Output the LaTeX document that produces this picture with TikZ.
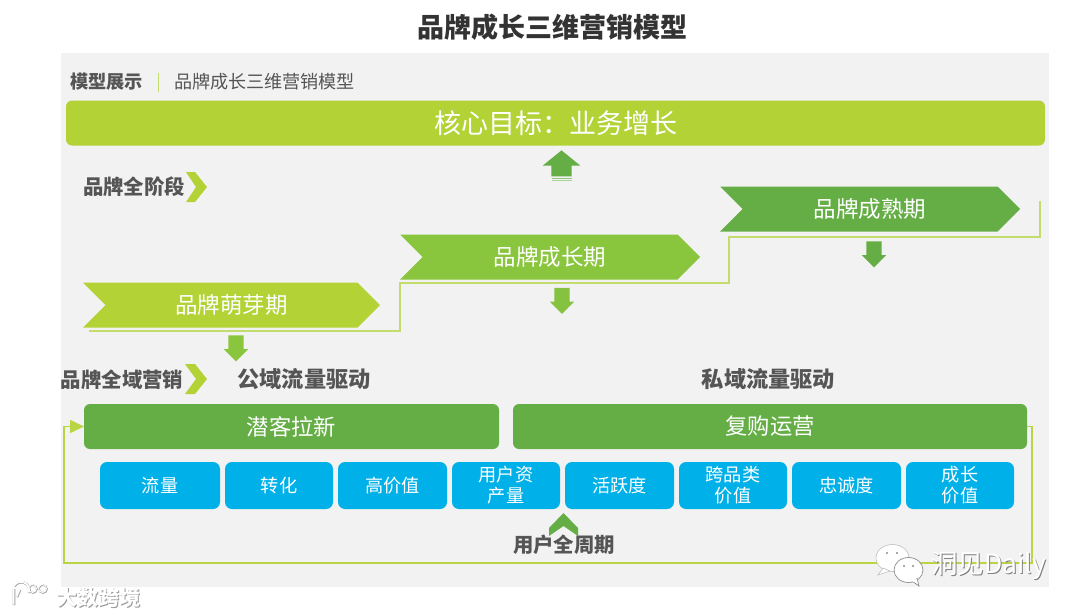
\documentclass[tikz,border=0pt]{standalone}
\usepackage{fontspec}
\usetikzlibrary{arrows.meta,shapes.symbols,shapes.arrows}
\newfontfamily\cjk{Noto Sans CJK SC}
\newcommand{\fs}[1]{\fontsize{#1}{#1}\selectfont}
\definecolor{lime}{HTML}{B2D235}
\definecolor{midgreen}{HTML}{8AC53E}
\definecolor{leaf}{HTML}{65AE46}
\definecolor{sky}{HTML}{00B0E8}
\definecolor{panel}{HTML}{F2F2F2}
\definecolor{label}{HTML}{555555}
\definecolor{stepline}{HTML}{C3DC6E}
\definecolor{loopline}{HTML}{B9D544}
\tikzset{
  stage/.style={signal, signal from=west, signal to=east, signal pointer angle=90, inner sep=0pt, outer sep=0pt, minimum height=45pt, text=white, font=\cjk\fs{22.5}},
  hint/.style={text=label, inner sep=0pt, font=\cjk\bfseries\fs{20.4}},
  drive/.style={text=label, inner sep=0pt, font=\cjk\bfseries\fs{22.2}},
  bar/.style={fill=leaf, rounded corners=6pt, inner sep=0pt, outer sep=0pt, minimum height=45pt, text=white, font=\cjk\fs{22.3}},
  metric/.style={fill=sky, rounded corners=7pt, inner sep=0pt, outer sep=0pt, minimum height=47pt, text=white, align=center, font=\cjk\fontsize{18.2}{21}\selectfont},
  drop/.style={single arrow, rotate=-90, inner xsep=0pt, inner ysep=7.5pt, minimum height=26pt, single arrow head extend=4.5pt, single arrow tip angle=90}
}
\begin{document}
\begin{tikzpicture}[x=1pt, y=-1pt]
  \useasboundingbox (0,0) rectangle (1080,616);
  \fill[white] (0,0) rectangle (1080,616);
  \fill[panel] (61,53) rectangle (1049,587);

  \node[text=black!80, inner sep=0pt, font=\cjk\bfseries\fs{27}] (title) at (552,27) {品牌成长三维营销模型};
  \node[text=label, inner sep=0pt, font=\cjk\bfseries\fs{18.2}] (show) at (106.5,82) {模型展示};
  \node[text=label, inner sep=0pt, font=\cjk\fs{18.1}] (model) at (264.5,82) {品牌成长三维营销模型};
  \coordinate (sepa) at (158,73);
  \coordinate (sepb) at (158,92);
  \draw[stepline, line width=1pt] (sepa) -- (sepb);

  \node[bar, fill=lime, minimum width=979pt, font=\cjk\fs{27}] (goal) at (555.5,123) {核心目标：业务增长};

  \node[single arrow, rotate=90, fill=leaf, inner xsep=0pt, inner ysep=10pt, minimum height=26pt, single arrow head extend=8.5pt, single arrow tip angle=102] (rise) at (561.5,167.5) {};
  \fill[leaf!70!white] (551.5,177.5) rectangle (571.5,179);
  \fill[leaf!55!white] (551.5,180) rectangle (571.5,181);

  \node[hint] (allstage) at (134,186.5) {品牌全阶段};
  \fill[lime] (186,172) -- (195,172) -- (207,187) -- (195,202) -- (186,202) -- (196,187) -- cycle;

  \coordinate (s0) at (89,331);
  \coordinate (s1) at (400,331);
  \coordinate (s2) at (400,283);
  \coordinate (s3) at (729,283);
  \coordinate (s4) at (729,237);
  \coordinate (s5) at (1040,237);
  \coordinate (s6) at (1040,201);
  \draw[stepline, line width=1.2pt] (s0) -- (s1) -- (s2) -- (s3) -- (s4) -- (s5) -- (s6);

  \node[stage, fill=lime, minimum width=297pt] (sprout) at (231.5,305) {品牌萌芽期};
  \node[stage, fill=midgreen, minimum width=300pt] (growth) at (550,257) {品牌成长期};
  \node[stage, fill=leaf, minimum width=300pt] (mature) at (870,209) {品牌成熟期};

  \node[drop, fill=midgreen] (dropa) at (236,344.5) {};
  \node[drop, fill=midgreen!85!leaf] (dropb) at (562,297) {};
  \node[drop, fill=leaf] (dropc) at (874,250.5) {};

  \node[hint] (allfield) at (122,380) {品牌全域营销};
  \fill[lime] (185,364) -- (195,364) -- (207,379) -- (195,394) -- (185,394) -- (196,379) -- cycle;
  \node[drive] (public) at (304,379.5) {公域流量驱动};
  \node[drive] (private) at (768.5,379.5) {私域流量驱动};

  \node[bar, minimum width=415pt] (prospect) at (291.5,426.5) {潜客拉新};
  \node[bar, minimum width=514pt] (rebuy) at (770,426.5) {复购运营};

  \node[metric, minimum width=120pt] (m1) at (160,485.5) {流量};
  \node[metric, minimum width=108pt] (m2) at (279,485.5) {转化};
  \node[metric, minimum width=109pt] (m3) at (392.5,485.5) {高价值};
  \node[metric, minimum width=108pt] (m4) at (506,485.5) {用户资\\产量};
  \node[metric, minimum width=109pt] (m5) at (619.5,485.5) {活跃度};
  \node[metric, minimum width=108pt] (m6) at (733,485.5) {跨品类\\价值};
  \node[metric, minimum width=109pt] (m7) at (846.5,485.5) {忠诚度};
  \node[metric, minimum width=108pt] (m8) at (960,485.5) {成长\\价值};

  \coordinate (loopbr) at (1032,563);
  \coordinate (looptl) at (64,426.5);
  \draw[loopline, line width=1.6pt, -{Triangle[length=14pt,width=13pt]}] (rebuy.east) -| (loopbr) -| (looptl) -- (prospect.west);

  \fill[leaf] (563.5,513) -- (578,528) -- (578,536) -- (563.5,526) -- (549,536) -- (549,528) -- cycle;
  \node[hint] (cycle) at (564,544.5) {用户全周期};

  % watermarks
  \fill[white, draw=black!25, line width=.6pt] (892.5,558) ellipse (16.5 and 13.5);
  \fill[white, draw=black!25, line width=.6pt] (883,568) -- (878,575) -- (890,571) -- cycle;
  \fill[white, draw=black!45, line width=.7pt] (908.5,570) ellipse (14.5 and 12.5);
  \fill[white, draw=black!45, line width=.7pt] (912,581) -- (919,586) -- (917,578) -- cycle;
  \fill[white] (906,579) -- (918,576) -- (914,582) -- cycle;
  \fill[black!45] (887,553) circle (1.2) (897,553) circle (1.2) (904,566) circle (1.2) (913,566) circle (1.2);
  \node[text=black!50, font=\cjk\fs{26.5}, inner sep=0pt] (dailyb) at (989.5,567) {洞见Daily};
  \node[text=white, font=\cjk\fs{26.5}, inner sep=0pt] (daily) at (988.5,566) {洞见Daily};
  \node[text=black!40, font=\cjk\bfseries\fs{21}, inner sep=0pt] (sourceb) at (99.5,598) {大数跨境};
  \node[text=white, font=\cjk\bfseries\fs{21}, inner sep=0pt] (source) at (98.5,597) {大数跨境};
  \draw[black!35, line width=2.6pt] (14,589) -- (14,605) (29,593) arc (20:-150:8 and 8) (20,590) -- (17,597);
  \draw[black!35, line width=1.6pt] (33,589) circle (4) (43,589) circle (4);
  \draw[white, line width=1.8pt] (13.5,588.5) -- (13.5,604.5) (28.5,592.5) arc (20:-150:8 and 8) (19.5,589.5) -- (16.5,596.5);
  \draw[white, line width=.8pt] (32.5,588.5) circle (4) (42.5,588.5) circle (4);
\end{tikzpicture}
\end{document}
